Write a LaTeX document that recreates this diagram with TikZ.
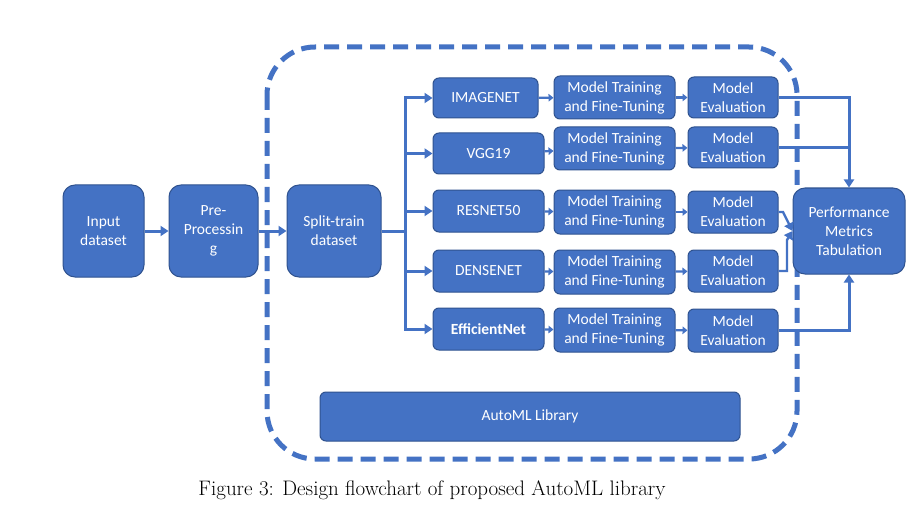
\documentclass[tikz,border=0pt]{standalone}
\usepackage{fontspec}
\newfontfamily\boxfont{Carlito}
\usetikzlibrary{arrows.meta}
\definecolor{bfill}{HTML}{4472C4}
\definecolor{bdraw}{HTML}{2F528F}
\begin{document}
\begin{tikzpicture}[x=1pt,y=-1pt,
  box/.style={draw=bdraw, line width=1pt, fill=bfill, text=white, align=center,
    font=\boxfont\fontsize{15.5}{19}\selectfont, inner sep=0pt},
  bigbox/.style={box, rounded corners=12pt},
  smallbox/.style={box, rounded corners=6pt},
  arr/.style={draw=bfill, line width=3pt, -{Triangle[length=8pt,width=10pt]}},
  sarr/.style={draw=bfill, line width=2.2pt, -{Triangle[length=5pt,width=7.5pt]}},
  line/.style={draw=bfill, line width=3pt},
  frame/.style={draw=bfill, line width=5pt, dash pattern=on 15pt off 8pt, rounded corners=48pt}]
\useasboundingbox (0,0) rectangle (920,513);
\fill[white] (0,0) rectangle (920,513);

\draw[frame] (267,47) rectangle (797,459);

\node[bigbox, minimum width=81pt, minimum height=92pt] (inp) at (103.5,231) {Input\\dataset};
\node[bigbox, minimum width=89pt, minimum height=92pt] (pre) at (213.5,231) {Pre-\\Processin\\g};
\node[bigbox, minimum width=94pt, minimum height=92pt] (split) at (334,231) {Split-train\\dataset};

\node[smallbox, minimum width=105pt, minimum height=40pt] (m1) at (485.5,98) {IMAGENET};
\node[smallbox, minimum width=111pt, minimum height=41pt] (m2) at (488.5,153.5) {VGG19};
\node[smallbox, minimum width=111pt, minimum height=42pt] (m3) at (488.5,211) {RESNET50};
\node[smallbox, minimum width=111pt, minimum height=42pt] (m4) at (488.5,271) {DENSENET};
\node[smallbox, minimum width=111pt, minimum height=42pt, font=\boxfont\bfseries\fontsize{15.5}{19}\selectfont] (m5) at (488.5,329) {EfficientNet};

\node[smallbox, minimum width=121pt, minimum height=43pt] (t1) at (614.5,97.5) {Model Training\\and Fine-Tuning};
\node[smallbox, minimum width=121pt, minimum height=43pt] (t2) at (614.5,148.5) {Model Training\\and Fine-Tuning};
\node[smallbox, minimum width=121pt, minimum height=44pt] (t3) at (614.5,212) {Model Training\\and Fine-Tuning};
\node[smallbox, minimum width=121pt, minimum height=44pt] (t4) at (614.5,272) {Model Training\\and Fine-Tuning};
\node[smallbox, minimum width=121pt, minimum height=44pt] (t5) at (614.5,330) {Model Training\\and Fine-Tuning};

\node[smallbox, minimum width=90pt, minimum height=41pt] (e1) at (733,97.5) {Model\\Evaluation};
\node[smallbox, minimum width=90pt, minimum height=41pt] (e2) at (733,147.5) {Model\\Evaluation};
\node[smallbox, minimum width=90pt, minimum height=42pt] (e3) at (733,212) {Model\\Evaluation};
\node[smallbox, minimum width=90pt, minimum height=42pt] (e4) at (733,271) {Model\\Evaluation};
\node[smallbox, minimum width=90pt, minimum height=43pt] (e5) at (733,330.5) {Model\\Evaluation};

\node[bigbox, minimum width=112pt, minimum height=86pt] (perf) at (849,231) {Performance\\Metrics\\Tabulation};

\node[smallbox, minimum width=420pt, minimum height=49pt] (lib) at (530,416.5) {AutoML Library};

\node[font=\fontsize{21}{25}\selectfont, inner sep=0pt] (cap) at (432,490) {Figure 3: Design flowchart of proposed AutoML library};

\draw[arr] (inp) -- (pre);
\draw[arr] (pre) -- (split);
\coordinate (br) at (405,231);
\draw[line] (split.east) -- (br);
\foreach \m in {m1,m2,m3,m4,m5}{
  \draw[arr] (br) |- (\m.west);
}
\foreach \i in {1,...,5}{
  \draw[sarr] (m\i) -- (t\i);
  \draw[sarr] (t\i) -- (e\i);
}
\draw[arr] (e1.east) -| (perf.north);
\draw[line] (e2.east) -- (perf.north |- e2.east);
\draw[arr] (e5.east) -| (perf.south);
\draw[arr, line width=2.4pt] (e3.east) -- (783,212) -- (perf.west);
\draw[arr, line width=2.4pt] (e4.east) -- (787,271) -- (787,240) -- (perf.west);
\end{tikzpicture}
\end{document}
